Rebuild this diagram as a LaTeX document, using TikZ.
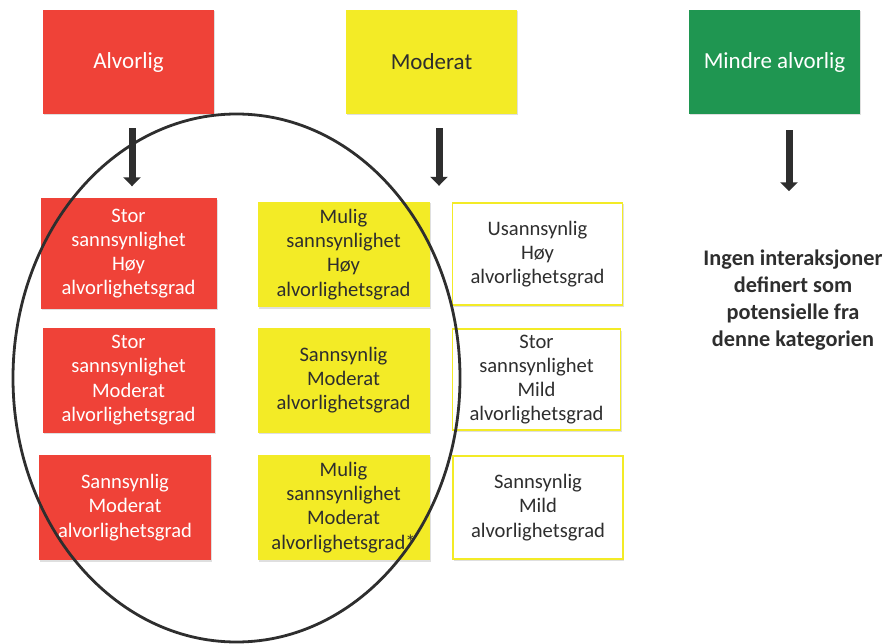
\documentclass[tikz,border=0pt]{standalone}
\usepackage{fontspec}
\setmainfont{Carlito}
\usetikzlibrary{arrows.meta,shadows,shapes.geometric}
\definecolor{cred}{HTML}{EF4238}
\definecolor{cyel}{HTML}{F3EB26}
\definecolor{cgrn}{HTML}{1F9651}
\definecolor{cdark}{HTML}{2E2E2E}
\begin{document}
\begin{tikzpicture}[x=1pt,y=-1pt,
  base/.style={rectangle, align=center, inner sep=2pt,
    font=\fontsize{20.6}{24.2}\selectfont,
    drop shadow={opacity=0.25, shadow xshift=1pt, shadow yshift=-1.5pt}},
  redbox/.style={base, fill=cred, text=white},
  yelbox/.style={base, fill=cyel, text=cdark},
  grnbox/.style={base, fill=cgrn, text=white},
  whtbox/.style={base, fill=white, draw=cyel, line width=1.5pt, text=cdark},
  hdr/.style={minimum width=171pt, minimum height=104pt, font=\fontsize{23}{27}\selectfont},
  cell/.style={minimum width=172pt, minimum height=105pt},
  arr/.style={draw=cdark, line width=7pt, -{Triangle[width=17pt,length=9pt]}}
]
\useasboundingbox (0,0) rectangle (890,644);
% headers
\node[redbox,hdr] (alv) at (128.5,62) {\raisebox{-3pt}{Alvorlig}};
\node[yelbox,hdr] (mod) at (431.5,62) {\raisebox{-3pt}{Moderat}};
\node[grnbox,hdr] (min) at (774.5,62) {\raisebox{-3pt}{Mindre alvorlig}};
% column 1
\node[redbox,cell,minimum width=176pt,minimum height=110pt] (r1) at (128.5,253.5) {Stor\\sannsynlighet\\Høy\\alvorlighetsgrad};
\node[redbox,cell] (r2) at (128.5,380) {Stor\\sannsynlighet\\Moderat\\alvorlighetsgrad};
\node[redbox,cell] (r3) at (125,507.5) {Sannsynlig\\Moderat\\alvorlighetsgrad};
% column 2
\node[yelbox,cell] (y1) at (343.5,254.5) {Mulig\\sannsynlighet\\Høy\\alvorlighetsgrad};
\node[yelbox,cell] (y2) at (343.5,380) {Sannsynlig\\Moderat\\alvorlighetsgrad};
\node[yelbox,cell] (y3) at (343.5,507.5) {Mulig\\sannsynlighet\\Moderat\\alvorlighetsgrad*};
% column 3
\node[whtbox,cell,minimum width=170pt,minimum height=102pt] (w1) at (537.5,254) {Usannsynlig\\Høy\\alvorlighetsgrad};
\node[whtbox,cell,minimum width=168pt,minimum height=101pt] (w2) at (536.5,379.5) {Stor\\sannsynlighet\\Mild\\alvorlighetsgrad};
\node[whtbox,cell,minimum width=170pt,minimum height=103pt] (w3) at (538,507.5) {Sannsynlig\\Mild\\alvorlighetsgrad};
% right text
\node[align=center, text=cdark, font=\bfseries\fontsize{22.3}{27}\selectfont] (none) at (793,300) {Ingen interaksjoner\\definert som\\potensielle fra\\denne kategorien};
% arrows
\draw[arr] ([xshift=3.5pt,yshift=-14pt]alv.south) -- ([xshift=3.5pt,yshift=12pt]r1.north);
\draw[arr] ([xshift=7.5pt,yshift=-14pt]mod.south) -- ([xshift=95.5pt,yshift=16pt]y1.north);
\draw[arr] ([xshift=14.5pt,yshift=-16pt]min.south) -- ([xshift=-4pt,yshift=55pt]none.north);
% ellipse
\node[draw=cdark, line width=2.8pt, ellipse, minimum width=447pt, minimum height=528pt, inner sep=0pt] (ell) at (236.5,378) {};
\end{tikzpicture}
\end{document}
